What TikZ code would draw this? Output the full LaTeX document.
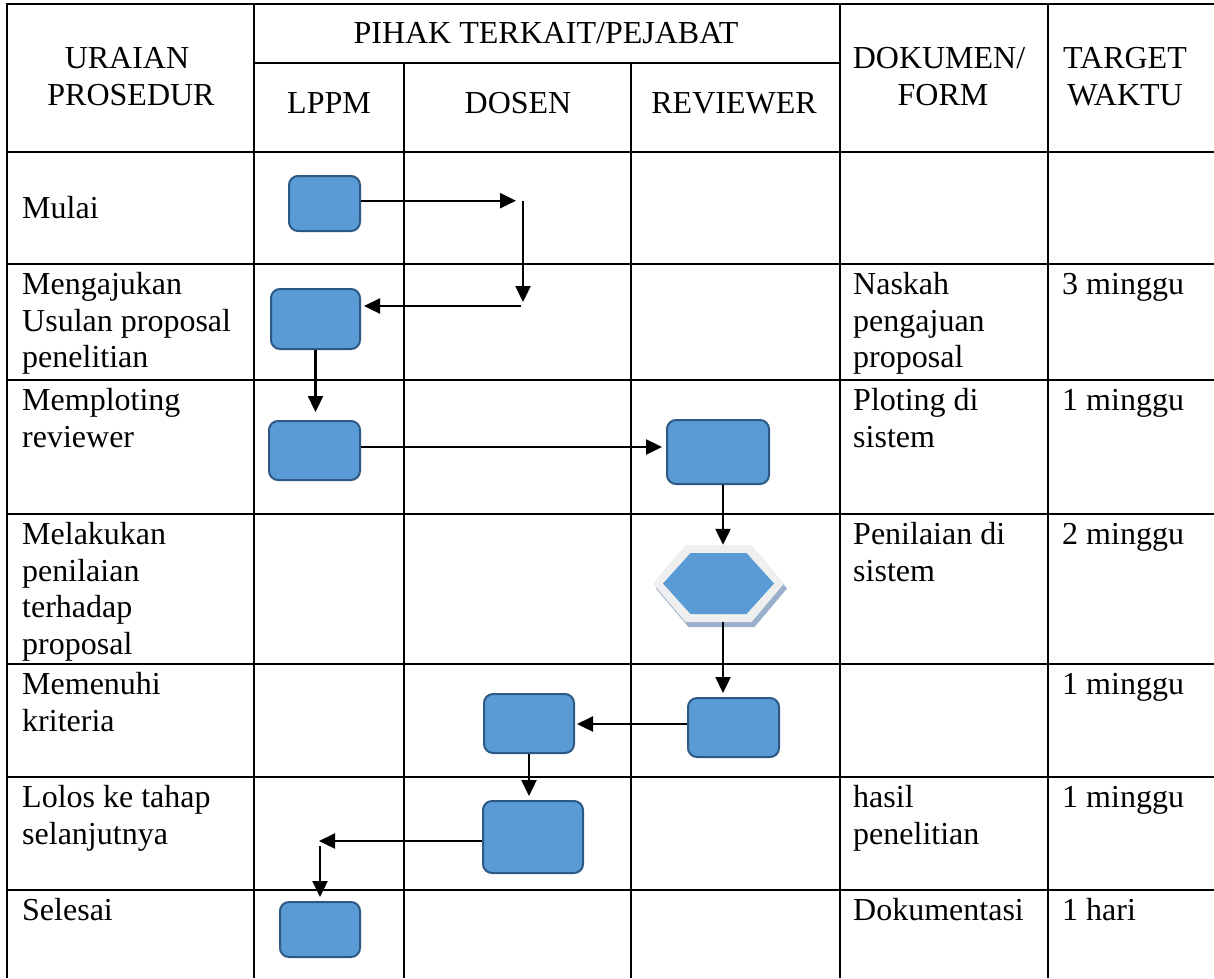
\documentclass[tikz,border=0pt]{standalone}
\usepackage{fontspec}
\setmainfont{Liberation Serif}
\usetikzlibrary{arrows.meta,calc}
\definecolor{boxfill}{HTML}{5B9BD5}
\definecolor{boxline}{HTML}{2C5985}
\definecolor{hexframe}{HTML}{EFEFEF}
\definecolor{hexshadow}{HTML}{9AAFCB}
\newcommand{\bodyfont}{\fontsize{32}{36.8}\selectfont}
\begin{document}
\begin{tikzpicture}[x=1pt,y=-1pt,
  grid/.style={line width=2.3pt, black},
  hd/.style={anchor=base, inner sep=0pt, font=\bodyfont},
  cell/.style={anchor=north west, inner sep=0pt, align=left, font=\bodyfont, yshift=25.76pt},
  flowbox/.style={draw=boxline, fill=boxfill, line width=2pt, rounded corners=9pt, inner sep=0pt},
  arr/.style={line width=2.3pt, black, -{Triangle[length=16pt,width=15pt]}},
  plain/.style={line width=2.3pt, black}]
\useasboundingbox (0,0) rectangle (1214,978);

% ---------- table grid ----------
\draw[grid] (7,978) -- (7,4) -- (1214,4);
\draw[grid] (254,4) -- (254,978);
\draw[grid] (404,63) -- (404,978);
\draw[grid] (631,63) -- (631,978);
\draw[grid] (840,4) -- (840,978);
\draw[grid] (1048,4) -- (1048,978);
\draw[grid] (254,63) -- (840,63);
\foreach \yy in {152,264,380,514,664,777,890}
  \draw[grid] (7,\yy) -- (1214,\yy);

% ---------- header ----------
\node[hd] (h1a) at (127,68) {URAIAN};
\node[hd] (h1b) at (131,105) {PROSEDUR};
\node[hd] (h2) at (546,43) {PIHAK TERKAIT/PEJABAT};
\node[hd] (h3a) at (329,113) {LPPM};
\node[hd] (h3b) at (518,113) {DOSEN};
\node[hd] (h3c) at (734,113) {REVIEWER};
\node[hd] (h4a) at (939,68) {DOKUMEN/};
\node[hd] (h4b) at (943,105) {FORM};
\node[hd] (h5a) at (1125,68) {TARGET};
\node[hd] (h5b) at (1125,105) {WAKTU};

% ---------- first column ----------
\node[cell] (t1) at (22,218) {\strut Mulai};
\node[cell] (t2) at (22,294) {\strut Mengajukan\\Usulan proposal\\penelitian};
\node[cell] (t3) at (22,410) {\strut Memploting\\reviewer};
\node[cell] (t4) at (22,544) {\strut Melakukan\\penilaian\\terhadap\\proposal};
\node[cell] (t5) at (22,694) {\strut Memenuhi\\kriteria};
\node[cell] (t6) at (22,807) {\strut Lolos ke tahap\\selanjutnya};
\node[cell] (t7) at (22,920) {\strut Selesai};

% ---------- dokumen column ----------
\node[cell] (d2) at (853,294) {\strut Naskah\\pengajuan\\proposal};
\node[cell] (d3) at (853,410) {\strut Ploting di\\sistem};
\node[cell] (d4) at (853,544) {\strut Penilaian di\\sistem};
\node[cell] (d6) at (853,807) {\strut hasil\\penelitian};
\node[cell] (d7) at (853,920) {\strut Dokumentasi};

% ---------- target column ----------
\node[cell] (w2) at (1062,294) {\strut 3 minggu};
\node[cell] (w3) at (1062,410) {\strut 1 minggu};
\node[cell] (w4) at (1062,544) {\strut 2 minggu};
\node[cell] (w5) at (1062,694) {\strut 1 minggu};
\node[cell] (w6) at (1062,807) {\strut 1 minggu};
\node[cell] (w7) at (1062,920) {\strut 1 hari};

% ---------- flow boxes ----------
\node[flowbox, minimum width=71pt, minimum height=55pt] (b1) at (324.5,203.5) {};
\node[flowbox, minimum width=89pt, minimum height=60pt] (b2) at (315.5,319) {};
\node[flowbox, minimum width=91pt, minimum height=59pt] (b3) at (314.5,450.5) {};
\node[flowbox, minimum width=102pt, minimum height=64pt] (b4) at (718,452) {};
\node[flowbox, minimum width=91pt, minimum height=59pt] (b5) at (733.5,727.5) {};
\node[flowbox, minimum width=90pt, minimum height=59pt] (b6) at (529,723.5) {};
\node[flowbox, minimum width=100pt, minimum height=72pt] (b7) at (533,837) {};
\node[flowbox, minimum width=80pt, minimum height=55pt] (b8) at (320,929.5) {};

% ---------- hexagon (decision) ----------
\node[minimum width=131pt, minimum height=77pt, inner sep=0pt] (hex) at (718.5,583.5) {};
\fill[hexshadow] ($(hex.center)+(-62.5,5)$) -- ($(hex.center)+(-30,-33.5)$) -- ($(hex.center)+(36,-33.5)$)
  -- ($(hex.center)+(68.5,5)$) -- ($(hex.center)+(36,43.5)$) -- ($(hex.center)+(-30,43.5)$) -- cycle;
\fill[hexframe] ($(hex.center)+(-65.5,0)$) -- ($(hex.center)+(-33,-38.5)$) -- ($(hex.center)+(33,-38.5)$)
  -- ($(hex.center)+(65.5,0)$) -- ($(hex.center)+(33,38.5)$) -- ($(hex.center)+(-33,38.5)$) -- cycle;
\fill[boxfill] ($(hex.center)+(-55.5,0)$) -- ($(hex.center)+(-28,-30.5)$) -- ($(hex.center)+(28,-30.5)$)
  -- ($(hex.center)+(55.5,0)$) -- ($(hex.center)+(28,30.5)$) -- ($(hex.center)+(-28,30.5)$) -- cycle;

% ---------- connector helper coordinates ----------
\coordinate (c1) at (516,200.7);
\coordinate (c2) at (523,201);
\coordinate (c3) at (523,302);
\coordinate (c4) at (521,306);
\coordinate (a5) at (0,447);
\coordinate (ax) at (723,0);
\coordinate (a8) at (0,724);
\coordinate (c5) at (319,841);
\coordinate (c6) at (320,846);

% ---------- connectors ----------
\draw[arr] (b1.east |- c1) -- (c1);
\draw[arr] (c2) -- (c3);
\draw[arr, shorten >=3pt] (c4) -- (b2.east |- c4);
\draw[arr, shorten >=8pt] (b2.south) -- (b2.south |- b3.north);
\draw[arr, shorten >=4pt] (b3.east |- a5) -- (b4.west |- a5);
\draw[arr] (b4.south -| ax) -- (hex.north -| ax);
\draw[arr, shorten >=4pt] (hex.south -| ax) -- (b5.north -| ax);
\draw[arr, shorten >=2pt] (b5.west |- a8) -- (b6.east |- a8);
\draw[arr, shorten >=4pt] (b6.south) -- (b6.south |- b7.north);
\draw[arr] (b7.west |- c5) -- (c5);
\draw[arr, shorten >=4pt] (c6) -- (c6 |- b8.north);
\end{tikzpicture}
\end{document}
